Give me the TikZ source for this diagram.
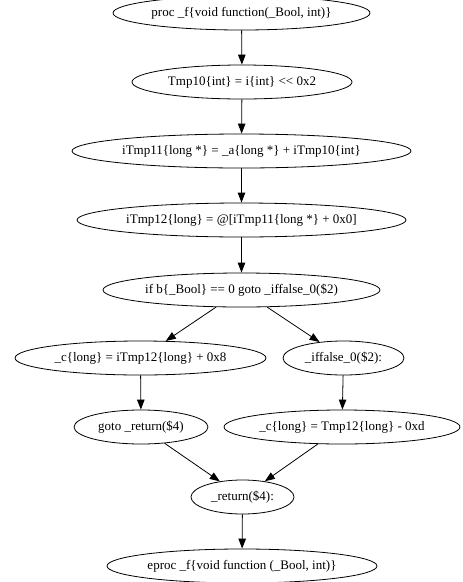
\documentclass[tikz,border=0pt]{standalone}
\usepackage{fontspec}
\setmainfont{Liberation Serif}
\usepackage{tikz}
\usetikzlibrary{shapes.geometric,arrows.meta}

\tikzset{
	stmt/.style={draw, ellipse, line width=0.8pt, minimum height=34pt, inner sep=0pt, font=\fontsize{13}{15}\selectfont},
	flow/.style={line width=0.8pt, -{Triangle[length=10pt,width=7.5pt]}}
}

\begin{document}
\begin{tikzpicture}[x=1pt,y=-1pt]
		\useasboundingbox (0,0) rectangle (463,582);
		
		\node[stmt, minimum width=257pt] (proc) at (241.5,13) {proc \_f\{void function(\_Bool, int)\}};
		\node[stmt, minimum width=220pt] (tmp10) at (242,82) {Tmp10\{int\} = i\{int\} <\kern0pt< 0x2};
		\node[stmt, minimum width=339pt] (tmp11) at (241.5,151) {iTmp11\{long *\} = \_a\{long *\} + iTmp10\{int\}};
		\node[stmt, minimum width=329pt] (tmp12) at (241.5,220) {iTmp12\{long\} = @[iTmp11\{long *\} + 0x0]};
		\node[stmt, minimum width=277pt] (ifb) at (241.5,290) {if b\{\_Bool\} == 0 goto \_iffalse\_0(\$2)};
		
		\node[stmt, minimum width=251pt] (cadd) at (140.5,358) {\_c\{long\} = iTmp12\{long\} + 0x8};
		\node[stmt, minimum width=121pt] (iffalse) at (343.5,358) {\_iffalse\_0(\$2):};
		\node[stmt, minimum width=134pt] (gotoret) at (141,427) {goto \_return(\$4)};
		\node[stmt, minimum width=236pt] (csub) at (342,427) {\_c\{long\} = Tmp12\{long\} - 0xd};
		
		\node[stmt, minimum width=103pt] (ret) at (242.5,497) {\_return(\$4):};
		\node[stmt, minimum width=270pt] (eproc) at (242,566) {eproc \_f\{void function (\_Bool, int)\}};
		
		\draw[flow] (proc) -- (tmp10);
		\draw[flow] (tmp10) -- (tmp11);
		\draw[flow] (tmp11) -- (tmp12);
		\draw[flow] (tmp12) -- (ifb);
		\draw[flow] (ifb) -- (cadd);
		\draw[flow] (ifb) -- (iffalse);
		\draw[flow] (cadd) -- (gotoret);
		\draw[flow] (iffalse) -- (csub);
		\draw[flow] (gotoret) -- (ret);
		\draw[flow] (csub) -- (ret);
		\draw[flow] (ret) -- (eproc);
	\end{tikzpicture}
\end{document}
